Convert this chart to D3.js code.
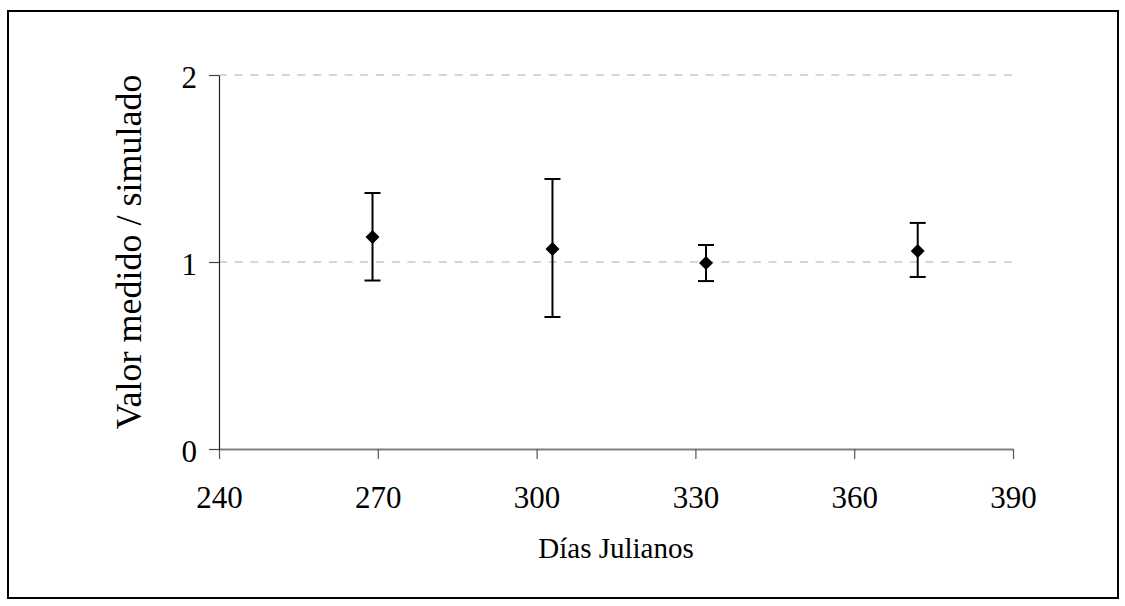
<!DOCTYPE html>
<meta charset="utf-8">
<head>
    <title>Valor medido / simulado</title>
    <script src="https://cdn.jsdelivr.net/npm/d3@7"></script>
    <style>
        body { margin: 0; background: #fff; }
        text { font-family: "Liberation Serif", "Times New Roman", serif; fill: #000; }
    </style>
</head>
<body>
<script>
    // data
    var dias     = [269, 303, 332, 372];
    var ratio    = [1.134, 1.070, 0.995, 1.059];
    var errHigh  = [1.369, 1.444, 1.091, 1.209];
    var errLow   = [0.901, 0.706, 0.898, 0.920];
    var xTicks   = [240, 270, 300, 330, 360, 390];
    var yTicks   = [0, 1, 2];

    var width = 1125, height = 606;
    var margin = {top: 75, right: 112, bottom: 157, left: 219};

    var svg = d3.select("body").append("svg")
        .attr("width", width)
        .attr("height", height);

    // outer frame
    svg.append("rect")
        .attr("x", 8).attr("y", 11)
        .attr("width", 1110).attr("height", 587)
        .attr("fill", "none")
        .attr("stroke", "#000")
        .attr("stroke-width", 2);

    var x = d3.scaleLinear().domain([240, 390]).range([margin.left, width - margin.right]);
    var y = d3.scaleLinear().domain([0, 2]).range([height - margin.bottom, margin.top]);

    var data = dias.map(function(d, i) {
        return {dia: d, v: ratio[i], hi: errHigh[i], lo: errLow[i]};
    });

    // dashed gridlines
    svg.append("g").selectAll("line")
        .data(yTicks.filter(function(d) { return d > 0; }))
        .join("line")
        .attr("x1", x(240)).attr("x2", x(390))
        .attr("y1", d => y(d)).attr("y2", d => y(d))
        .attr("stroke", "#c8c8c8")
        .attr("stroke-width", 1.5)
        .attr("stroke-dasharray", "8,7.7");

    // x axis
    var xAxis = svg.append("g")
        .attr("transform", "translate(0," + y(0) + ")")
        .call(d3.axisBottom(x).tickValues(xTicks).tickFormat(d3.format("d"))
            .tickSizeInner(10).tickSizeOuter(0).tickPadding(27));
    xAxis.select(".domain").attr("stroke", "#808080").attr("stroke-width", 2);
    xAxis.selectAll(".tick line").attr("stroke", "#555").attr("stroke-width", 1.2);
    xAxis.selectAll("text")
        .style("font-size", "31px").attr("fill", "#000");

    // y axis
    var yAxis = svg.append("g")
        .attr("transform", "translate(" + x(240) + ",0)")
        .call(d3.axisLeft(y).tickValues(yTicks).tickFormat(d3.format("d"))
            .tickSizeInner(10).tickSizeOuter(0).tickPadding(12));
    yAxis.select(".domain").attr("stroke", "#222").attr("stroke-width", 1.2);
    yAxis.selectAll(".tick line").attr("stroke", "#444").attr("stroke-width", 1.2);
    yAxis.selectAll("text")
        .attr("dy", "0.4em")
        .style("font-size", "31px").attr("fill", "#000");

    // axis titles
    svg.append("text")
        .attr("x", (x(240) + x(390)) / 2)
        .attr("y", 558)
        .attr("text-anchor", "middle")
        .style("font-size", "29px")
        .text("Días Julianos");

    svg.append("text")
        .attr("transform", "translate(141,252) rotate(-90)")
        .attr("text-anchor", "middle")
        .style("font-size", "36px")
        .text("Valor medido / simulado");

    // error bars
    var bars = svg.append("g").selectAll("g")
        .data(data)
        .join("g")
        .attr("stroke", "#000")
        .attr("stroke-width", 2);
    bars.append("line")
        .attr("x1", d => x(d.dia)).attr("x2", d => x(d.dia))
        .attr("y1", d => y(d.hi)).attr("y2", d => y(d.lo));
    bars.append("line")
        .attr("x1", d => x(d.dia) - 8).attr("x2", d => x(d.dia) + 8)
        .attr("y1", d => y(d.hi)).attr("y2", d => y(d.hi));
    bars.append("line")
        .attr("x1", d => x(d.dia) - 8).attr("x2", d => x(d.dia) + 8)
        .attr("y1", d => y(d.lo)).attr("y2", d => y(d.lo));

    // diamond markers
    svg.append("g").selectAll("path")
        .data(data)
        .join("path")
        .attr("transform", d => "translate(" + x(d.dia) + "," + y(d.v) + ")")
        .attr("d", "M0,-7L7,0L0,7L-7,0Z")
        .attr("fill", "#000");
</script>
</body>
</html>
